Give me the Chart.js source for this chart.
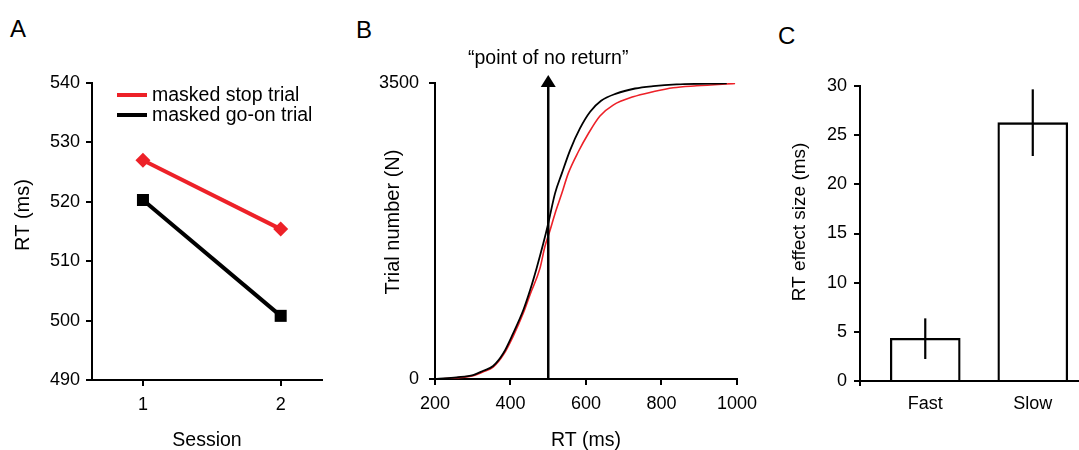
<!DOCTYPE html>
<html>
<head>
<meta charset="utf-8">
<script src="https://cdn.jsdelivr.net/npm/chart.js@4.4.1/dist/chart.umd.min.js"></script>
<style>
  body { margin:0; background:#fff; width:1079px; height:450px; overflow:hidden; position:relative; font-family:"Liberation Sans", Arial, sans-serif; }
  canvas { position:absolute; top:0; }
  .tag { position:absolute; font-size:24px; line-height:1; color:#000; }
</style>
</head>
<body>
<div class="tag" style="left:10px;top:17px">A</div>
<div class="tag" style="left:356px;top:18px">B</div>
<div class="tag" style="left:778px;top:24px">C</div>
<canvas id="chartA" width="340" height="450" style="left:0"></canvas>
<canvas id="chartB" width="425" height="450" style="left:340px"></canvas>
<canvas id="chartC" width="319" height="450" style="left:760px"></canvas>
<script>
'use strict';

// ── data ─────────────────────────────────────────
// A: mean RT per session
const sessions = [1, 2];
const stopRT   = [527.0, 515.4];
const goOnRT   = [520.3, 500.8];
const seriesA  = ['masked stop trial', 'masked go-on trial'];

// B: cumulative trial counts over RT
const rtBlack = [205, 257, 301, 328, 354, 381, 407, 434, 452, 469, 487, 500, 518, 536, 558, 584, 611, 640, 680, 730, 778, 840, 973];
const nBlack  = [0, 20, 47, 98, 154, 304, 540, 816, 1052, 1308, 1604, 1840, 2195, 2431, 2707, 2963, 3160, 3290, 3375, 3435, 3463, 3483, 3495];
const rtRed   = [215, 257, 301, 328, 354, 381, 407, 434, 452, 478, 491, 505, 518, 536, 553, 580, 606, 637, 672, 725, 778, 831, 893, 995];
const nRed    = [0, 15, 40, 85, 140, 285, 505, 780, 1000, 1308, 1564, 1761, 1958, 2195, 2431, 2690, 2900, 3110, 3239, 3337, 3397, 3444, 3467, 3495];
const ticksB_x = [200, 400, 600, 800, 1000];
const ticksB_y = [0, 3500];
const markRT   = 500;
const markText = '\u201Cpoint of no return\u201D';

// C: RT effect size
const groups = ['Fast', 'Slow'];
const effect = [4.34, 26.27];
const errLo  = [2.24, 22.88];
const errHi  = [6.37, 29.66];

// ── shared style ─────────────────────────────────
const RED = '#ed2128';
const FAM = '"Liberation Sans", Arial, sans-serif';
Chart.defaults.font.family = FAM;
Chart.defaults.font.size = 18;
Chart.defaults.color = '#000';
Chart.defaults.animation = false;
Chart.defaults.plugins.legend.display = false;
Chart.defaults.plugins.tooltip.enabled = false;

const tickGrid = { drawOnChartArea:false, drawTicks:true, tickLength:6, color:'#000', lineWidth:2, offset:false };
const axisLine = { display:true, color:'#000', width:2 };
const fixW = w => s => { s.width = w; };
const fixH = h => s => { s.height = h; };
const setTicks = vals => s => { s.ticks = vals.map(v => ({ value:v })); };
const plain = v => String(v);

// rotated y title, placed a bit above the axis middle like the original
function yTitle(text, x, y, size) {
  return {
    id:'yTitle',
    afterDraw(chart) {
      const ctx = chart.ctx;
      ctx.save();
      ctx.translate(x, y);
      ctx.rotate(-Math.PI / 2);
      ctx.font = size + 'px ' + FAM;
      ctx.fillStyle = '#000';
      ctx.textAlign = 'center';
      ctx.textBaseline = 'middle';
      ctx.fillText(text, 0, 0);
      ctx.restore();
    }
  };
}

// ── A ────────────────────────────────────────────
const legendA = {
  id:'legendA',
  afterDraw(chart) {
    const ctx = chart.ctx;
    ctx.save();
    ctx.font = '19.5px ' + FAM;
    ctx.textBaseline = 'middle';
    chart.data.datasets.forEach((ds, i) => {
      const y = 95 + i * 20;
      ctx.strokeStyle = ds.borderColor;
      ctx.lineWidth = 4;
      ctx.beginPath(); ctx.moveTo(117, y); ctx.lineTo(147, y); ctx.stroke();
      ctx.fillStyle = '#000';
      ctx.fillText(ds.label, 152, y + 1);
    });
    ctx.restore();
  }
};

new Chart(document.getElementById('chartA'), {
  type:'line',
  data:{
    datasets:[
      { label:seriesA[0], data:sessions.map((s, i) => ({ x:s, y:stopRT[i] })), borderColor:RED, backgroundColor:RED,
        borderWidth:4, pointStyle:'rectRot', pointRadius:7.5, pointBorderWidth:0 },
      { label:seriesA[1], data:sessions.map((s, i) => ({ x:s, y:goOnRT[i] })), borderColor:'#000', backgroundColor:'#000',
        borderWidth:4, pointStyle:'rect', pointRadius:8.5, pointBorderWidth:0 }
    ]
  },
  options:{
    responsive:false,
    layout:{ padding:{ top:83, right:18, left:0, bottom:0 } },
    scales:{
      x:{ type:'linear', min:0.63, max:2.3, grid:tickGrid, border:axisLine,
          afterBuildTicks:setTicks(sessions), afterFit:fixH(70),
          ticks:{ padding:8, font:{ size:18 }, callback:plain },
          title:{ display:true, text:'Session', align:'center', font:{ size:19.5, lineHeight:1 }, padding:{ top:0, bottom:0 } } },
      y:{ min:490, max:540, grid:tickGrid, border:axisLine, afterFit:fixW(92),
          ticks:{ stepSize:10, padding:6, font:{ size:18 } } }
    }
  },
  plugins:[legendA, yTitle('RT (ms)', 23, 215, 20)]
});

// ── B ────────────────────────────────────────────
const arrowB = {
  id:'arrowB',
  afterDatasetsDraw(chart) {
    const { ctx, scales:{ x, y } } = chart;
    const px = x.getPixelForValue(markRT);
    const y0 = y.getPixelForValue(0);
    const tip = chart.chartArea.top - 8;
    ctx.save();
    ctx.strokeStyle = '#000';
    ctx.fillStyle = '#000';
    ctx.lineWidth = 2.5;
    ctx.beginPath(); ctx.moveTo(px, y0); ctx.lineTo(px, tip + 8); ctx.stroke();
    ctx.beginPath(); ctx.moveTo(px, tip); ctx.lineTo(px - 7.5, tip + 12); ctx.lineTo(px + 7.5, tip + 12); ctx.closePath(); ctx.fill();
    ctx.font = '19.5px ' + FAM;
    ctx.textAlign = 'center';
    ctx.textBaseline = 'middle';
    ctx.fillText(markText, px, 59);
    ctx.restore();
  }
};

new Chart(document.getElementById('chartB'), {
  type:'line',
  data:{
    datasets:[
      { label:'black', data:rtBlack.map((r, i) => ({ x:r, y:nBlack[i] })), borderColor:'#000', borderWidth:1.8,
        pointRadius:0, cubicInterpolationMode:'monotone' },
      { label:'red', data:rtRed.map((r, i) => ({ x:r, y:nRed[i] })), borderColor:RED, borderWidth:1.6,
        pointRadius:0, cubicInterpolationMode:'monotone' }
    ]
  },
  options:{
    responsive:false,
    layout:{ padding:{ top:83, right:18, left:0, bottom:0 } },
    scales:{
      x:{ type:'linear', min:200, max:1000, grid:tickGrid, border:axisLine,
          afterBuildTicks:setTicks(ticksB_x), afterFit:fixH(71),
          ticks:{ padding:8, font:{ size:18 }, callback:plain },
          title:{ display:true, text:'RT (ms)', font:{ size:19.5, lineHeight:1 }, padding:{ top:0, bottom:0 } } },
      y:{ min:0, max:3500, grid:tickGrid, border:axisLine, afterFit:fixW(95),
          afterBuildTicks:setTicks(ticksB_y),
          ticks:{ padding:10, font:{ size:18 }, callback:plain } }
    }
  },
  plugins:[arrowB, yTitle('Trial number (N)', 53, 222, 20)]
});

// ── C ────────────────────────────────────────────
const errorBarsC = {
  id:'errorBarsC',
  afterDatasetsDraw(chart) {
    const { ctx, scales:{ x, y } } = chart;
    ctx.save();
    ctx.strokeStyle = '#000';
    ctx.lineWidth = 2.2;
    groups.forEach((g, i) => {
      const px = x.getPixelForValue(i + 1);
      ctx.beginPath();
      ctx.moveTo(px, y.getPixelForValue(errLo[i]));
      ctx.lineTo(px, y.getPixelForValue(errHi[i]));
      ctx.stroke();
    });
    // little tick under the origin
    ctx.lineWidth = 2;
    ctx.beginPath();
    ctx.moveTo(chart.chartArea.left, chart.chartArea.bottom);
    ctx.lineTo(chart.chartArea.left, chart.chartArea.bottom + 5);
    ctx.stroke();
    ctx.restore();
  }
};

new Chart(document.getElementById('chartC'), {
  type:'bar',
  data:{
    datasets:[
      { label:'RT effect', data:groups.map((g, i) => ({ x:i + 1, y:effect[i] })),
        backgroundColor:'#fff', borderColor:'#000', borderWidth:2.3, borderSkipped:'start', barThickness:70 }
    ]
  },
  options:{
    responsive:false,
    layout:{ padding:{ top:86, right:0, left:0, bottom:0 } },
    scales:{
      x:{ type:'linear', min:0.393, max:2.43, offset:false, bounds:'data',
          grid:{ display:false, drawTicks:true, tickLength:6, offset:false }, border:axisLine,
          afterBuildTicks:setTicks([1, 2]), afterFit:fixH(69),
          ticks:{ padding:6, font:{ size:18 }, callback:v => groups[v - 1] } },
      y:{ min:0, max:30, grid:tickGrid, border:axisLine, afterFit:fixW(100),
          ticks:{ stepSize:5, padding:7, font:{ size:18 } } }
    }
  },
  plugins:[errorBarsC, yTitle('RT effect size (ms)', 40, 222, 19)]
});
</script>
</body>
</html>
